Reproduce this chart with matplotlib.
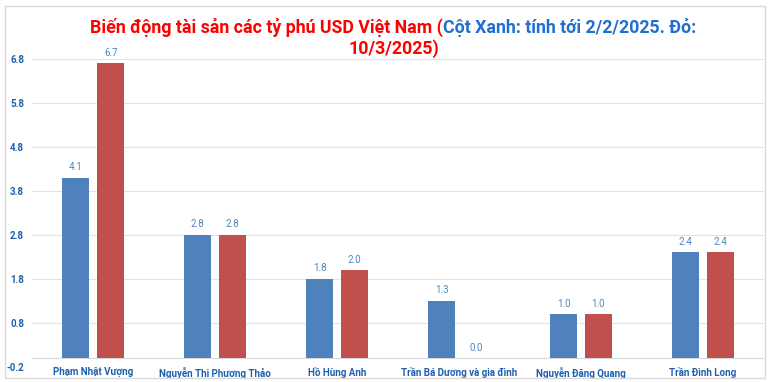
import numpy as np
import matplotlib
matplotlib.use("Agg")
import matplotlib.pyplot as plt
from matplotlib.patches import Rectangle

plt.rcParams['font.family'] = ['Roboto', 'DejaVu Sans']

# Daten (Mrd. USD)
names = ["Phạm Nhật Vượng", "Nguyễn Thị Phương Thảo", "Hồ Hùng Anh",
         "Trần Bá Dương và gia đình", "Nguyễn Đăng Quang", "Trần Đình Long"]
blue_vals = [4.1, 2.8, 1.8, 1.3, 1.0, 2.4]
red_vals = [6.7, 2.8, 2.0, 0.0, 1.0, 2.4]
yticks = [-0.2, 0.8, 1.8, 2.8, 3.8, 4.8, 5.8, 6.8]

title_red = "Biến động tài sản các tỷ phú USD Việt Nam ("
title_blue = "Cột Xanh: tính tới 2/2/2025. Đỏ:"
title_line2 = "10/3/2025)"

BLUE = "#4F81BD"
RED = "#C0504D"
TICK = "#1F5FAF"
LBL = "#4A86C5"

fig = plt.figure(figsize=(7.7, 3.82), dpi=100)
ax = fig.add_axes([0.042, 0.040, 0.950, 0.806])

x = np.arange(len(names))
w = 0.22
off = 0.143
ax.bar(x - off, blue_vals, w, color=BLUE, zorder=3)
ax.bar(x + off, red_vals, w, color=RED, zorder=3)

for xi, v in zip(x, blue_vals):
    ax.text(xi - off, v + 0.12, f"{v:.1f}", ha='center', va='bottom',
            fontsize=7, color=LBL, clip_on=False)
for xi, v in zip(x, red_vals):
    ax.text(xi + off, v + 0.12, f"{v:.1f}", ha='center', va='bottom',
            fontsize=7, color=LBL, clip_on=False)

ax.set_xlim(-0.5, len(names) - 0.5)
ax.set_ylim(-0.2, 6.8)
ax.set_yticks(yticks)
ax.set_yticklabels([f"{t:.1f}" for t in yticks], fontsize=7, color=TICK,
                   fontweight='bold')
ax.grid(axis='y', color='#E3E3E3', linewidth=0.8, zorder=0)
ax.axhline(0, color='#D9D9D9', linewidth=0.8, zorder=1)
for s in ax.spines.values():
    s.set_visible(False)
ax.tick_params(axis='both', length=0)
ax.tick_params(axis='y', pad=6)

ax.set_xticks(x)
ax.set_xticklabels(names, fontsize=7, color=TICK, fontweight='bold')
ax.tick_params(axis='x', pad=0)

# Rahmen
fig.patches.append(Rectangle((0.006, 0.010), 0.987, 0.974, transform=fig.transFigure,
                             fill=False, edgecolor='#D9D9D9', linewidth=1.0))

# Titel in zwei Farben
fig.canvas.draw()
r = fig.canvas.get_renderer()
t1 = fig.text(0, 0.928, title_red, color='red', fontsize=12.8, fontweight='bold',
              ha='left', va='center')
t2 = fig.text(0, 0.928, title_blue, color='#1F6FD0', fontsize=12.8, fontweight='bold',
              ha='left', va='center')
w1 = t1.get_window_extent(r).width / fig.bbox.width
w2 = t2.get_window_extent(r).width / fig.bbox.width
start = 0.511 - (w1 + w2) / 2
t1.set_x(start)
t2.set_x(start + w1)
fig.text(0.511, 0.873, title_line2, color='red', fontsize=12.8, fontweight='bold',
         ha='center', va='center')

fig.savefig("out.png", dpi=100)
